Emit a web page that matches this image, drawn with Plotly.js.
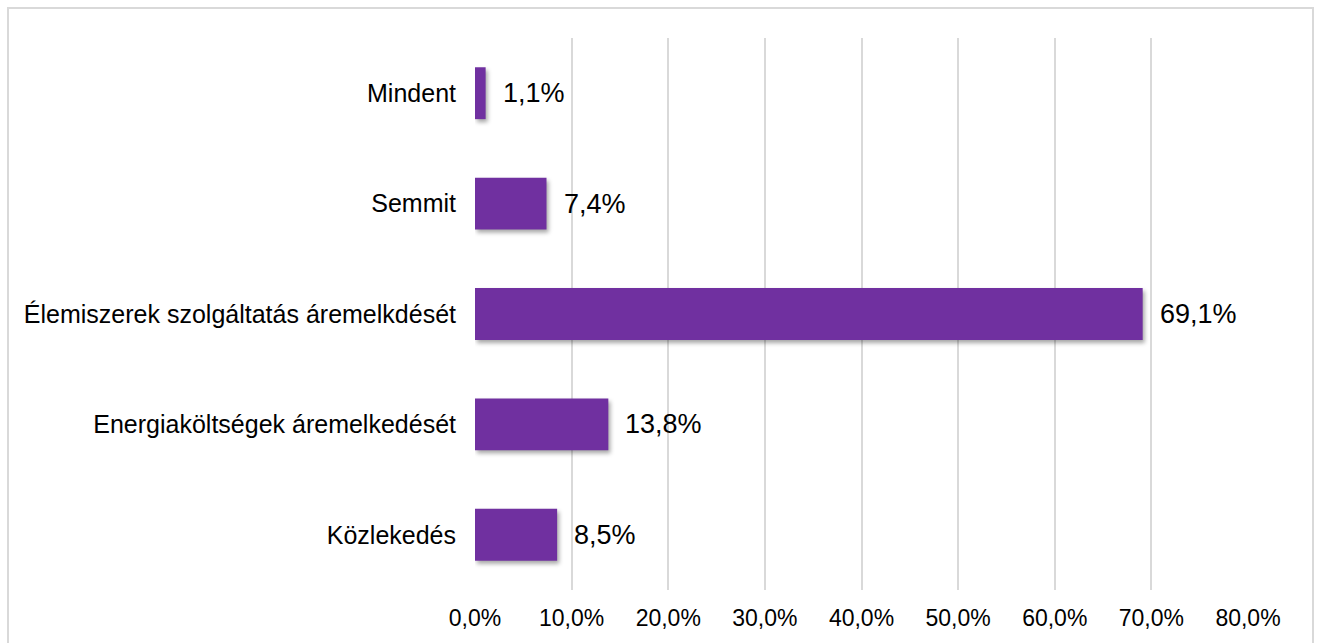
<!DOCTYPE html>
<html>
<head>
<meta charset="utf-8">
<script src="https://cdn.plot.ly/plotly-3.0.1.min.js"></script>
<style>
  html, body { margin: 0; padding: 0; background: #fff; }
  #wrap { position: relative; width: 1317px; height: 643px; overflow: hidden; }
  #chart { position: absolute; left: 0; top: 0; width: 1317px; height: 643px; }
  #frame { position: absolute; left: 7px; top: 7px; width: 1303px; height: 660px;
           border: 2px solid #d9d9d9; pointer-events: none; }
  .trace.bars .point path { filter: drop-shadow(2px 3px 2px rgba(0,0,0,0.35)); }
</style>
</head>
<body>
<div id="wrap">
  <div id="chart"></div>
  <div id="frame"></div>
</div>
<script>
const categories = [
  "Mindent",
  "Semmit",
  "Élemiszerek szolgáltatás áremelkdését",
  "Energiaköltségek áremelkedését",
  "Közlekedés"
];
const values = [1.1, 7.4, 69.1, 13.8, 8.5];
const tickValues = [0, 10, 20, 30, 40, 50, 60, 70, 80];
const tickLabels = ["0,0%", "10,0%", "20,0%", "30,0%", "40,0%", "50,0%", "60,0%", "70,0%", "80,0%"];

const fmt = v => v.toFixed(1).replace(".", ",") + "%";

const font = "'Liberation Sans', Arial, sans-serif";

const trace = {
  type: "bar",
  orientation: "h",
  x: values,
  y: categories,
  marker: { color: "#7030A0" },
  hoverinfo: "none"
};

const annotations = values.map((v, i) => ({
  x: v, y: categories[i], xref: "x", yref: "y",
  text: fmt(v), showarrow: false,
  xanchor: "left", yanchor: "middle", xshift: 15,
  font: { family: font, size: 27, color: "#000" }
}));

const layout = {
  width: 1317, height: 643,
  margin: { l: 475, r: 69, t: 38, b: 53, pad: 0 },
  paper_bgcolor: "#fff", plot_bgcolor: "#fff",
  showlegend: false,
  bargap: 0.53,
  font: { family: font, color: "#000" },
  xaxis: {
    range: [0, 80],
    tickvals: tickValues, ticktext: tickLabels,
    showgrid: true, gridcolor: "#d9d9d9", gridwidth: 2,
    zeroline: false, showline: false, ticks: "",
    ticklabelstandoff: 12,
    tickfont: { family: font, size: 23, color: "#000" },
    fixedrange: true
  },
  yaxis: {
    autorange: "reversed",
    showgrid: false, zeroline: false, showline: false, ticks: "",
    ticklabelstandoff: 18,
    tickfont: { family: font, size: 25, color: "#000" },
    fixedrange: true
  },
  annotations: annotations
};

Plotly.newPlot("chart", [trace], layout, { displayModeBar: false, staticPlot: true });
</script>
</body>
</html>
